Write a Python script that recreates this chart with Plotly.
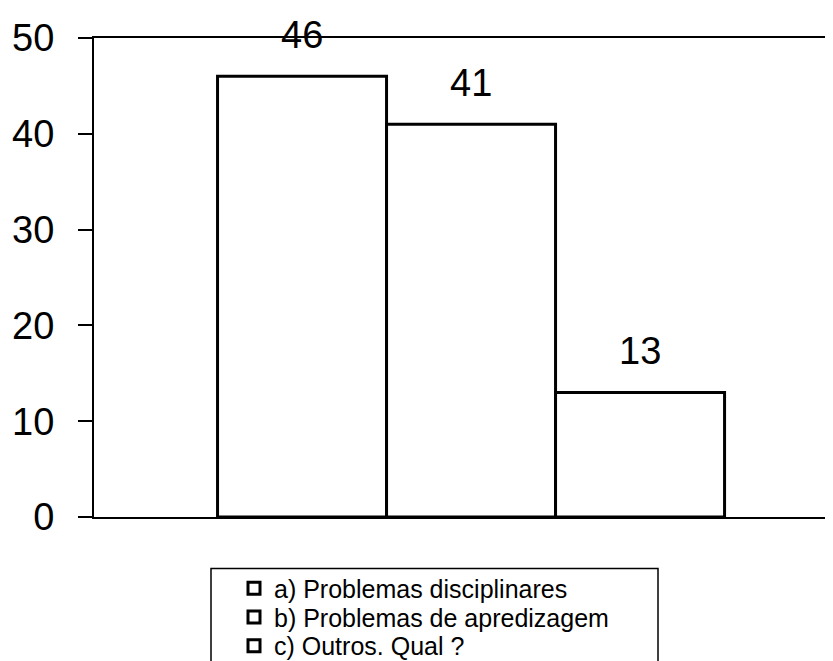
import plotly.graph_objects as go

categories = ["a) Problemas disciplinares", "b) Problemas de apredizagem", "c) Outros. Qual ?"]
values = [46, 41, 13]
positions = [0, 1, 2]
y_ticks = [0, 10, 20, 30, 40, 50]

W, H = 833, 661
ML, MR, MT, MB = 86, 0, 30, 148
PW, PH = W - ML - MR, H - MT - MB

def px_to_paper_x(px):
    return (px - ML) / PW

def px_to_paper_y(py):
    return (H - MB - py) / PH

FONT = "Liberation Sans, Arial, sans-serif"
legend_ids = ["legend", "legend2", "legend3"]
legend_rows_px = [585, 614, 643]

fig = go.Figure()
for name, pos, val, lid in zip(categories, positions, values, legend_ids):
    fig.add_trace(go.Bar(
        x=[pos], y=[val], name=name, width=1, legend=lid,
        marker=dict(color="white", line=dict(color="black", width=3)),
        showlegend=True,
    ))

for pos, val in zip(positions, values):
    fig.add_annotation(x=pos, y=val, text=str(val), showarrow=False,
                       yanchor="middle", yshift=41,
                       font=dict(size=38, color="black", family=FONT))

# legend frame
fig.add_shape(type="rect", xref="paper", yref="paper",
              x0=px_to_paper_x(203), x1=px_to_paper_x(650),
              y0=px_to_paper_y(670), y1=px_to_paper_y(565),
              line=dict(color="black", width=1.5), fillcolor="rgba(0,0,0,0)")

legend_style = dict(xanchor="left", yanchor="middle",
                    font=dict(size=25, color="black", family=FONT),
                    borderwidth=0, bgcolor="rgba(0,0,0,0)")
layout_legends = {}
for lid, row in zip(legend_ids, legend_rows_px):
    layout_legends[lid] = dict(x=px_to_paper_x(226), y=px_to_paper_y(row), **legend_style)

fig.update_layout(
    width=W, height=H,
    margin=dict(l=ML, r=MR, t=MT, b=MB),
    paper_bgcolor="white", plot_bgcolor="white",
    barmode="overlay",
    font=dict(family=FONT, color="black"),
    xaxis=dict(range=[-1.231, 3.189], showticklabels=False, ticks="",
               showgrid=False, zeroline=False,
               showline=True, linecolor="black", linewidth=2, mirror=True),
    yaxis=dict(range=[0, 50], tickvals=y_ticks, ticks="outside", ticklen=14,
               tickwidth=1.5, tickcolor="black",
               tickfont=dict(size=38, color="black", family=FONT),
               ticklabelstandoff=16,
               showgrid=False, zeroline=False,
               showline=True, linecolor="black", linewidth=2, mirror=False),
    **layout_legends,
)

fig.write_html("out.html")
